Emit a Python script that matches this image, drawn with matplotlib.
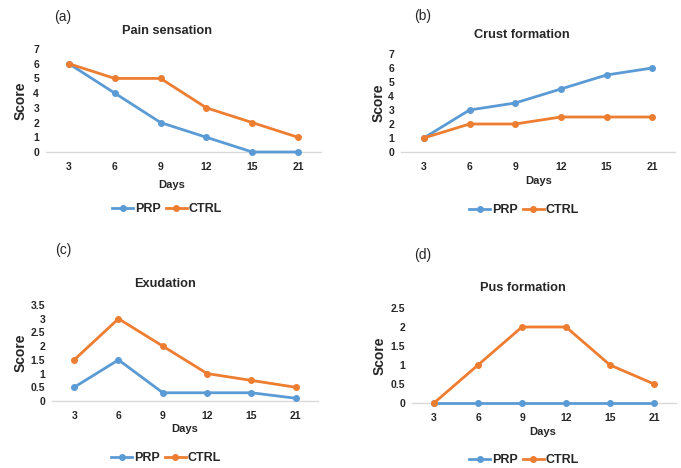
import numpy as np
import matplotlib
matplotlib.use("Agg")
import matplotlib.pyplot as plt
from matplotlib.ticker import FuncFormatter, MultipleLocator

plt.rcParams['font.family'] = ['Liberation Sans', 'DejaVu Sans']

W, H = 681, 468

days = ['3', '6', '9', '12', '15', '21']

pain_prp = [6, 4, 2, 1, 0, 0]
pain_ctrl = [6, 5, 5, 3, 2, 1]
crust_prp = [1, 3, 3.5, 4.5, 5.5, 6]
crust_ctrl = [1, 2, 2, 2.5, 2.5, 2.5]
exud_prp = [0.5, 1.5, 0.3, 0.3, 0.3, 0.1]
exud_ctrl = [1.5, 3, 2, 1, 0.75, 0.5]
pus_prp = [0, 0, 0, 0, 0, 0]
pus_ctrl = [0, 1, 2, 2, 1, 0.5]

blue = '#5B9BD5'
orange = '#ED7D31'
txt = '#262626'

fig = plt.figure(figsize=(W / 100, H / 100), dpi=100)


def box(l, t, r, b):
    return [l / W, 1 - b / H, (r - l) / W, (b - t) / H]


def fx(x):
    return x / W


def fy(y):
    return 1 - y / H


# letter, title, prp, ctrl, ymax, step, axes box (px), letter pos, title pos,
# score x, days pos, legend pos
panels = [
    ('(a)', 'Pain sensation', pain_prp, pain_ctrl, 7, 1,
     (46, 49, 321, 152), (63, 17), (167, 31), 21, (172, 185), (167, 209)),
    ('(b)', 'Crust formation', crust_prp, crust_ctrl, 7, 1,
     (401, 54, 675, 152), (423, 16), (522, 35), 379, (539, 181), (524, 210)),
    ('(c)', 'Exudation', exud_prp, exud_ctrl, 3.5, 0.5,
     (52, 305, 318, 401), (63, 250), (165, 284), 21, (185, 429), (166, 458)),
    ('(d)', 'Pus formation', pus_prp, pus_ctrl, 2.5, 0.5,
     (412, 308, 676, 403), (423, 255), (523, 288), 380, (543, 432), (524, 460)),
]

for letter, title, prp, ctrl, ymax, step, bx, lpos, tpos, sx, dpos, lgpos in panels:
    ax = fig.add_axes(box(*bx))
    x = np.arange(len(days))
    l1, = ax.plot(x, prp, color=blue, lw=2, marker='o', ms=4, clip_on=False, zorder=3)
    l2, = ax.plot(x, ctrl, color=orange, lw=2, marker='o', ms=4, clip_on=False, zorder=4)
    ax.set_xlim(-0.5, len(days) - 0.5)
    ax.set_ylim(0, ymax)
    ax.set_xticks(x)
    ax.set_xticklabels(days)
    ax.yaxis.set_major_locator(MultipleLocator(step))
    ax.yaxis.set_major_formatter(FuncFormatter(lambda v, p: '%g' % v))
    for s in ['top', 'right', 'left']:
        ax.spines[s].set_visible(False)
    ax.spines['bottom'].set_color('#D9D9D9')
    ax.spines['bottom'].set_linewidth(1)
    ax.tick_params(length=0, labelsize=7.5, colors=txt)
    ax.tick_params(axis='x', pad=7)
    ax.tick_params(axis='y', pad=5)
    for lab in ax.get_xticklabels() + ax.get_yticklabels():
        lab.set_fontweight('bold')
    ax.patch.set_alpha(0)

    fig.text(fx(lpos[0]), fy(lpos[1]), letter, fontsize=10, ha='center', va='center', color=txt)
    fig.text(fx(tpos[0]), fy(tpos[1]), title, fontsize=9.2, fontweight='bold',
             ha='center', va='center', color=txt)
    fig.text(fx(sx), fy((bx[1] + bx[3]) / 2), 'Score', fontsize=10, fontweight='bold',
             rotation=90, ha='center', va='center', color=txt)
    fig.text(fx(dpos[0]), fy(dpos[1]), 'Days', fontsize=8, fontweight='bold',
             ha='center', va='center', color=txt)
    leg = fig.legend([l1, l2], ['PRP', 'CTRL'], loc='center', ncol=2,
                     bbox_to_anchor=(fx(lgpos[0]), fy(lgpos[1])), frameon=False,
                     handlelength=1.7, columnspacing=0.4, handletextpad=0.15,
                     prop={'weight': 'bold', 'size': 9})
    for t in leg.get_texts():
        t.set_color(txt)

fig.savefig('out.png', dpi=100)
